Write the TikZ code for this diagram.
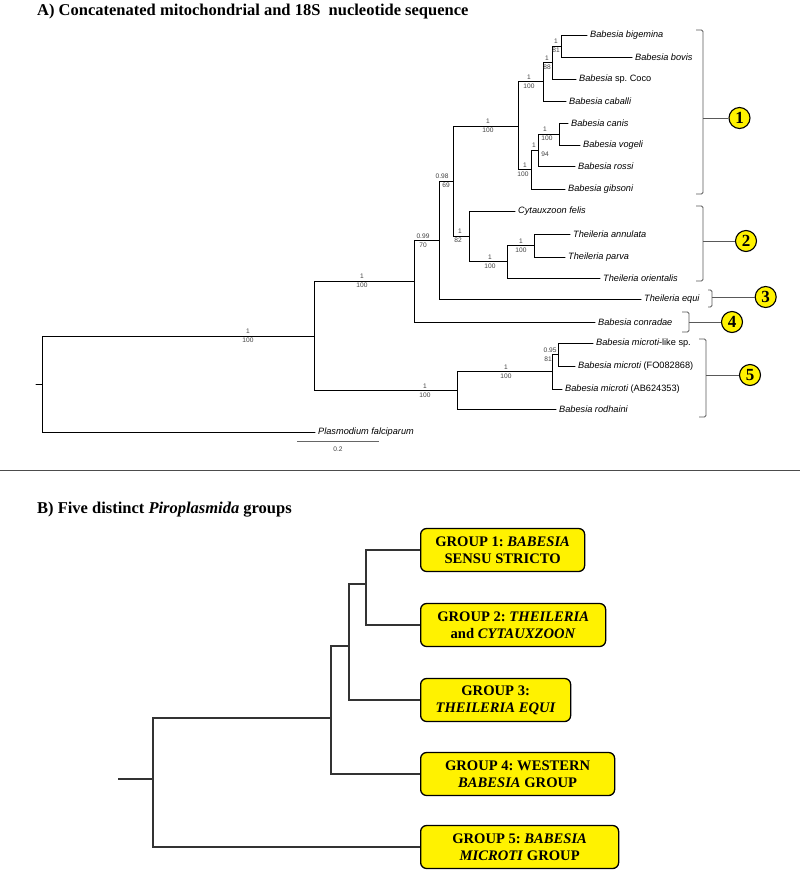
\documentclass[tikz,border=0pt]{standalone}
\usepackage{fontspec}
\setmainfont{Liberation Serif}
\newfontfamily\arial{Liberation Sans}
\frenchspacing
\begin{document}
\begin{tikzpicture}[x=1pt,y=-1pt,
    br/.style={line width=1pt,line cap=round},
    leaf/.style={anchor=west,inner xsep=3pt,inner ysep=0pt,font=\arial\fontsize{9.2}{10}\selectfont\itshape},
    supp/.style={font=\arial\fontsize{6.6}{7}\selectfont,text=black!75,inner sep=0.5pt},
    brk/.style={black!65,line width=0.9pt,rounded corners=1.5pt},
    num/.style={circle,draw,fill=yellow,line width=1.1pt,minimum size=21pt,inner sep=0pt,font=\bfseries\fontsize{17}{17}\selectfont},
    grp/.style={draw,fill=yellow,rounded corners=6pt,line width=1.3pt,anchor=west,align=center,minimum height=43pt,inner sep=0pt,font=\bfseries\fontsize{14.6}{17}\selectfont},
    gl/.style={black!80,line width=1.2pt},
    ttl/.style={anchor=base west,inner sep=0pt,font=\bfseries\fontsize{16.5}{18}\selectfont}]
  \fill[white] (0,0) rectangle (800,871);
  \useasboundingbox (0,0) rectangle (800,871);

  % A) tree
  \node[ttl] (ta) at (37,15) {A) Concatenated mitochondrial and 18S\ \ nucleotide sequence};

  \node[leaf] (bige) at (587,35) {Babesia bigemina};
  \node[leaf] (bovi) at (632,57) {Babesia bovis};
  \node[leaf] (coco) at (576,79) {Babesia {\upshape sp. Coco}};
  \node[leaf] (caba) at (566,101) {Babesia caballi};
  \node[leaf] (cani) at (568,123) {Babesia canis};
  \node[leaf] (voge) at (580,145) {Babesia vogeli};
  \node[leaf] (ross) at (575,166) {Babesia rossi};
  \node[leaf] (gibs) at (565,189) {Babesia gibsoni};
  \node[leaf] (cyta) at (515,211) {Cytauxzoon felis};
  \node[leaf] (annu) at (570,234) {Theileria annulata};
  \node[leaf] (parv) at (565,257) {Theileria parva};
  \node[leaf] (orie) at (600,278) {Theileria orientalis};
  \node[leaf] (equi) at (641,299) {Theileria equi};
  \node[leaf] (conr) at (595,322) {Babesia conradae};
  \node[leaf] (mlik) at (593,343) {Babesia microti{\upshape -like sp.}};
  \node[leaf] (mfo) at (575,366) {Babesia microti {\upshape (FO082868)}};
  \node[leaf] (mab) at (562,389) {Babesia microti {\upshape (AB624353)}};
  \node[leaf] (rodh) at (556,409) {Babesia rodhaini};
  \node[leaf] (plas) at (315,432) {Plasmodium falciparum};

  \coordinate (n1) at (561,46);
  \coordinate (n2) at (552,62.5);
  \coordinate (n3) at (543,81.5);
  \coordinate (n4) at (559,134);
  \coordinate (n5) at (538,150);
  \coordinate (n6) at (531,169.5);
  \coordinate (n7) at (518,126);
  \coordinate (n8) at (534,245.5);
  \coordinate (n9) at (507,261.5);
  \coordinate (n10) at (469,236);
  \coordinate (n11) at (453,181);
  \coordinate (n12) at (439,240.5);
  \coordinate (n13) at (414,281);
  \coordinate (n14) at (558,354.5);
  \coordinate (n15) at (552,371.7);
  \coordinate (n16) at (457,390.5);
  \coordinate (n17) at (314,336);
  \coordinate (r) at (42,384);
  \coordinate (r0) at (36,384);

  \foreach \p/\c in {n1/bige.west,n1/bovi.west,n2/n1,n2/coco.west,n3/n2,n3/caba.west,
      n4/cani.west,n4/voge.west,n5/n4,n5/ross.west,n6/n5,n6/gibs.west,n7/n3,n7/n6,
      n8/annu.west,n8/parv.west,n9/n8,n9/orie.west,n10/cyta.west,n10/n9,n11/n7,n11/n10,
      n12/n11,n12/equi.west,n13/n12,n13/conr.west,n14/mlik.west,n14/mfo.west,n15/n14,
      n15/mab.west,n16/n15,n16/rodh.west,n17/n13,n17/n16,r/n17,r/plas.west}
    \draw[br] (\p) |- (\c);
  \draw[br] (r0) -- (r);

  % posterior / bootstrap
  \foreach \xa/\xb/\y/\pp/\bs [count=\i] in {556/556/46/1/81,547/547/62.5/1/88,529/529/81.5/1/100,
      545/547/134/1/100,534/545/150/1/94,525/523/169.5/1/100,488/488/126/1/100,
      521/521/245.5/1/100,490/490/261.5/1/100,460/458/236/1/82,442/446/181/0.98/69,
      423/423/240.5/0.99/70,362/362/281/1/100,550/548/354.5/0.95/81,506/506/371.7/1/100,
      425/425/390.5/1/100,248/248/336/1/100} {
    \node[supp,anchor=south] (pp\i) at (\xa,\y-1.5) {\pp};
    \node[supp,anchor=north] (bs\i) at (\xb,\y+1.5) {\bs};
  }

  % scale bar
  \coordinate (sb1) at (297,441.7);
  \coordinate (sb2) at (379,441.7);
  \draw[black!60,line width=0.8pt] (sb1) -- (sb2);
  \node[supp] (sbl) at (338,449) {0.2};

  % group brackets
  \foreach \i/\x/\t/\b/\m/\tk/\cx in {1/703/30/194/118/7/739.5,2/703/206/281/241/7/746,
      3/712/290/307/297/4/765.7,4/689/312/332/322/7/732,5/706/339/417/375/7/750} {
    \draw[brk] (\x-\tk,\t) -- (\x,\t) -- (\x,\b) -- (\x-\tk,\b);
    \coordinate (k\i) at (\x,\m);
    \node[num] (c\i) at (\cx,\m) {\i};
    \draw[brk] (k\i) -- (c\i);
  }

  \draw[black!70,line width=1pt] (0,470.5) -- (800,470.5);

  % B) groups
  \node[ttl] (tb) at (37,513) {B) Five distinct \textit{Piroplasmida} groups};

  \node[grp,minimum width=164pt] (g1) at (420,550) {GROUP 1: \textit{BABESIA}\\SENSU STRICTO};
  \node[grp,minimum width=185pt] (g2) at (420,625) {GROUP 2: \textit{THEILERIA}\\and \textit{CYTAUXZOON}};
  \node[grp,minimum width=150pt] (g3) at (420,700) {GROUP 3:\\\textit{THEILERIA EQUI}};
  \node[grp,minimum width=194pt] (g4) at (420,774) {GROUP 4: WESTERN\\\textit{BABESIA} GROUP};
  \node[grp,minimum width=198pt] (g5) at (420,847) {GROUP 5: \textit{BABESIA}\\\textit{MICROTI} GROUP};

  \coordinate (m1) at (366,584);
  \coordinate (m2) at (349,646);
  \coordinate (m3) at (331,718);
  \coordinate (m4) at (153,779);
  \coordinate (m0) at (118,779);

  \foreach \p/\c in {m1/g1.west,m1/g2.west,m2/m1,m2/g3.west,m3/m2,m3/g4.west,m4/m3,m4/g5.west}
    \draw[gl] (\p) |- (\c);
  \draw[gl] (m0) -- (m4);
\end{tikzpicture}
\end{document}
